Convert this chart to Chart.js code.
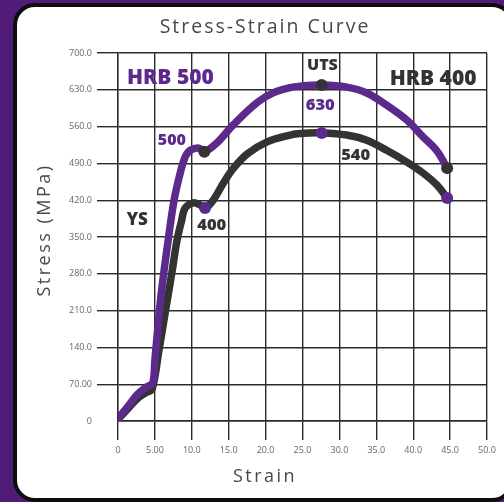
<!DOCTYPE html>
<html>
<head>
<meta charset="utf-8">
<script src="https://cdn.jsdelivr.net/npm/chart.js@4.4.0/dist/chart.umd.min.js"></script>
<style>
  html, body { margin: 0; padding: 0; width: 504px; height: 502px; }
  body { overflow: hidden; background: #501c78; position: relative; }
  .panel {
    position: absolute; left: 13px; top: 3px; width: 493px; height: 491px;
    border: 4px solid #0d0d0d; border-radius: 22px; background: #fff;
  }
  #myChart { position: absolute; left: 0; top: 0; }
</style>
</head>
<body>
<div class="panel"></div>
<canvas id="myChart" width="504" height="502"></canvas>
<script>
const strain500 = [0, 1.3, 2.6, 3.9, 4.7, 5.0, 5.8, 6.8, 7.6, 8.4, 9.1, 9.8, 11.0, 11.7, 13.4, 15.6, 18.8, 21.0, 23.3, 24.7, 27.6, 31.0, 33.7, 36.4, 39.1, 41.3, 43.2, 44.6];
const stress500 = [5, 27, 50, 65, 72, 116, 235, 344, 420, 470, 502, 515, 519, 512, 529, 563, 605, 624, 634, 637, 639, 635, 624, 601, 573, 541, 514, 481];

const strain400 = [0, 1.5, 2.8, 3.8, 4.6, 5.5, 6.5, 7.3, 8.0, 8.6, 9.1, 10.2, 11.1, 11.8, 12.9, 14.3, 15.6, 17.5, 20.2, 23.3, 24.7, 27.6, 31.0, 33.7, 36.4, 39.1, 41.3, 43.2, 44.6];
const stress400 = [3, 26, 45, 54, 60, 130, 215, 282, 344, 380, 405, 415, 411, 405, 420, 453, 480, 508, 531, 544, 547, 548, 544, 534, 515, 493, 472, 449, 424];

// yield, UTS and end marks
const dotStrain500 = [11.7, 27.6, 44.6];
const dotStress500 = [512, 639, 481];
const dotStrain400 = [11.8, 27.6, 44.6];
const dotStress400 = [405, 548, 424];

const xTickLabels = ["0", "5.00", "10.0", "15.0", "20.0", "25.0", "30.0", "35.0", "40.0", "45.0", "50.0"];
const yTickLabels = ["0", "70.00", "140.0", "210.0", "280.0", "350.0", "420.0", "490.0", "560.0", "630.0", "700.0"];

const noteText = ["HRB 500", "HRB 400", "UTS", "630", "540", "500", "YS", "400"];
const noteStrain = [7.1, 42.7, 27.7, 27.4, 32.2, 7.3, 2.6, 12.7];
const noteStress = [652, 650, 677, 601, 506, 534, 382, 373];

const PURPLE = "#5b2a8c";
const DARK = "#333333";
const noteColor = [PURPLE, DARK, DARK, PURPLE, DARK, PURPLE, DARK, DARK];
const noteSize = [21, 21, 16, 16.5, 16.5, 16, 17, 16.5];

function pts(xs, ys) {
  return xs.map((x, i) => ({ x: x, y: ys[i] }));
}

const textPlugin = {
  id: "chartText",
  afterDatasetsDraw(chart) {
    const ctx = chart.ctx;
    const xs = chart.scales.x;
    const ys = chart.scales.y;
    ctx.save();
    ctx.textAlign = "center";
    ctx.textBaseline = "middle";
    for (let i = 0; i < noteText.length; i++) {
      ctx.font = "800 " + noteSize[i] + "px 'Open Sans'";
      ctx.fillStyle = noteColor[i];
      ctx.fillText(noteText[i], xs.getPixelForValue(noteStrain[i]), ys.getPixelForValue(noteStress[i]));
    }

    ctx.fillStyle = "#484848";
    ctx.letterSpacing = "2px";
    ctx.font = "19.5px 'Open Sans'";
    ctx.fillText("Stress-Strain Curve", 265, 27);

    ctx.letterSpacing = "2.5px";
    ctx.font = "18px 'Open Sans'";
    ctx.fillText("Strain", 265, 477);

    ctx.translate(45, 230);
    ctx.rotate(-Math.PI / 2);
    ctx.fillText("Stress (MPa)", 0, 0);
    ctx.restore();
  },
};

const lineStyle = {
  borderWidth: 7.5,
  pointRadius: 0,
  tension: 0.35,
  borderCapStyle: "round",
  borderJoinStyle: "round",
};

new Chart(document.getElementById("myChart"), {
  type: "line",
  data: {
    datasets: [
      {
        label: "HRB 500 marks",
        data: pts(dotStrain500, dotStress500),
        showLine: false,
        pointRadius: 6,
        pointBackgroundColor: DARK,
        pointBorderWidth: 0,
        order: 0,
      },
      {
        label: "HRB 400 marks",
        data: pts(dotStrain400, dotStress400),
        showLine: false,
        pointRadius: 6,
        pointBackgroundColor: PURPLE,
        pointBorderWidth: 0,
        order: 1,
      },
      Object.assign({ label: "HRB 500", data: pts(strain500, stress500), borderColor: PURPLE, order: 2 }, lineStyle),
      Object.assign({ label: "HRB 400", data: pts(strain400, stress400), borderColor: DARK, order: 3 }, lineStyle),
    ],
  },
  options: {
    responsive: false,
    animation: false,
    layout: { padding: { left: 0, right: 17, top: 53, bottom: 0 } },
    plugins: { legend: { display: false }, tooltip: { enabled: false } },
    scales: {
      x: {
        type: "linear",
        min: 0,
        max: 50,
        afterFit: (s) => { s.height = 81; },
        ticks: {
          stepSize: 5,
          padding: 5,
          color: "#666",
          font: { family: "'Open Sans'", size: 9 },
          callback: (v, i) => xTickLabels[i],
        },
        grid: { color: "#2b2b2b", lineWidth: 1.4, tickLength: 19, tickColor: "#2b2b2b" },
        border: { color: "#2b2b2b", width: 1.4 },
      },
      y: {
        min: 0,
        max: 700,
        afterFit: (s) => { s.width = 118; },
        ticks: {
          stepSize: 70,
          padding: 5,
          color: "#666",
          font: { family: "'Open Sans'", size: 9 },
          callback: (v, i) => yTickLabels[i],
        },
        grid: {
          color: "#2b2b2b",
          lineWidth: 1.4,
          tickLength: 21,
          tickColor: (c) => (c.index === 0 ? "rgba(0,0,0,0)" : "#2b2b2b"),
        },
        border: { color: "#2b2b2b", width: 1.4 },
      },
    },
  },
  plugins: [textPlugin],
});
</script>
</body>
</html>
